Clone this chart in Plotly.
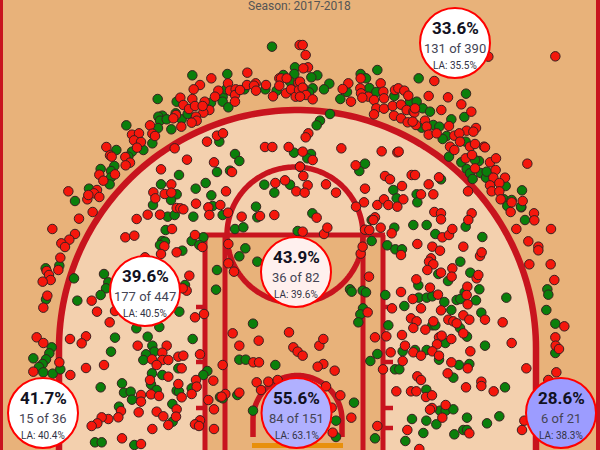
import numpy as np
import plotly.graph_objects as go

SEASON = "Season: 2017-2018"

# shot readings per court quadrant, in thirds of a court unit from the quadrant origin
made_nw = [(816,140),(577,226),(682,222),(473,297),(379,376),(487,347),(475,350),(480,362),(500,358),(474,384),(514,388),(530,305),(527,340),(545,358),(563,342),(633,308),(668,290),(668,305),(685,322),(678,268),(733,268),(796,268),(830,272),(850,225),(885,202),(883,222),(870,245),(457,430),(430,450),(396,455),(385,470),(349,450),(343,498),(333,513),(333,532),(329,553),(302,507),(267,566),(225,603),(658,425),(705,462),(718,483),(651,516),(690,512),(537,525),(483,553),(617,549),(587,566),(634,586),(530,583),(513,600),(459,615),(793,554),(870,554),(823,578),(768,620),(772,652),(668,645),(638,618),(503,650),(524,645),(580,650),(882,458)]
missed_nw = [(899,135),(742,218),(634,235),(600,255),(581,268),(684,250),(655,272),(690,272),(645,290),(707,268),(705,285),(705,305),(741,255),(767,250),(762,257),(768,272),(720,270),(798,255),(819,289),(838,235),(843,235),(860,235),(838,257),(858,280),(873,268),(887,290),(895,248),(897,270),(541,293),(577,297),(528,345),(550,315),(567,327),(585,318),(614,305),(628,330),(610,338),(588,350),(590,362),(575,368),(544,380),(520,355),(608,318),(450,376),(396,404),(417,400),(402,421),(423,426),(457,401),(465,408),(411,443),(319,441),(330,466),(335,470),(376,471),(390,488),(377,496),(345,523),(298,524),(310,542),(205,574),(291,570),(282,580),(262,598),(298,591),(265,585),(278,636),(237,656),(524,445),(621,425),(651,407),(669,400),(795,441),(817,441),(866,441),(561,479),(642,487),(483,508),(696,516),(514,553),(460,577),(466,595),(494,582),(514,578),(678,574),(826,549),(855,541),(889,574),(900,500),(588,611),(530,624),(541,625),(550,628),(480,644),(443,644),(410,657),(625,622),(628,645),(661,615),(684,638),(725,650),(823,645),(780,648)]
made_ne = [(232,210),(182,222),(198,235),(52,226),(34,232),(88,251),(72,268),(38,265),(27,277),(10,265),(121,297),(141,276),(208,264),(229,276),(283,288),(356,235),(498,281),(330,305),(350,305),(368,325),(390,335),(493,351),(454,358),(400,375),(418,380),(440,408),(428,417),(365,383),(497,425),(447,470),(484,487),(500,507),(510,520),(537,483),(525,480),(518,537),(542,519),(558,533),(560,515),(617,558),(666,571),(612,598),(622,618),(635,600),(664,622),(663,620),(675,660),(90,342),(60,362),(50,376),(33,462),(22,475),(195,491),(178,513),(423,538),(280,570),(290,595),(350,583),(352,607),(37,640),(215,660)]
missed_ne = [(8,135),(17,165),(24,202),(10,205),(0,245),(8,263),(18,285),(38,298),(0,290),(565,170),(766,169),(403,243),(182,235),(145,250),(128,267),(153,305),(181,265),(183,280),(205,290),(187,293),(222,300),(242,250),(250,275),(252,295),(229,325),(252,326),(222,343),(285,270),(295,265),(313,272),(325,287),(278,318),(303,314),(282,347),(303,355),(320,330),(340,335),(343,338),(345,325),(386,288),(444,292),(484,313),(424,330),(514,335),(323,367),(348,375),(338,365),(375,362),(380,380),(386,404),(410,400),(447,378),(463,407),(528,384),(500,392),(520,395),(478,400),(450,440),(463,450),(480,425),(510,440),(525,432),(552,440),(555,442),(497,475),(516,465),(570,487),(588,475),(587,510),(682,491),(525,505),(615,533),(580,533),(598,549),(570,556),(575,574),(598,574),(602,598),(635,607),(632,636),(668,603),(702,640),(703,661),(25,400),(17,412),(124,445),(245,454),(292,457),(296,455),(167,496),(255,528),(270,538),(335,525),(345,525),(417,532),(386,553),(306,558),(195,566),(78,553),(108,578),(23,556),(14,578),(10,528),(0,500),(8,455),(38,480),(363,583),(400,583),(504,574),(192,607),(168,620),(232,615),(252,598),(265,615),(292,620),(310,598),(403,636),(423,640),(423,658),(515,640),(505,660),(225,652),(220,660),(50,653)]
made_sw = [(137,130),(178,122),(222,160),(312,147),(325,172),(318,190),(302,210),(232,227),(138,223),(345,338),(333,380),(155,367),(148,385),(138,403),(128,417),(117,426),(100,400),(130,442),(158,446),(181,433),(302,487),(366,475),(372,503),(392,500),(396,524),(409,310),(443,335),(478,306),(457,362),(463,380),(438,388),(430,405),(456,445),(487,450),(453,478),(470,495),(535,430),(530,497),(537,500),(575,490),(517,537),(357,545),(518,590),(403,660),(285,652),(305,652),(497,15),(487,48),(495,50),(480,60),(575,48),(610,37),(598,60),(547,77),(705,12),(730,7),(736,70),(718,94),(772,110),(651,135),(648,194),(893,18),(538,260),(555,180),(759,296),(578,342),(718,404),(737,404),(826,420),(622,438),(610,450),(660,516),(668,520),(712,510),(759,557)]
missed_sw = [(157,12),(225,27),(208,44),(184,55),(195,66),(181,98),(175,135),(140,138),(147,150),(152,165),(128,170),(142,212),(130,248),(110,337),(130,354),(210,342),(258,334),(245,355),(275,227),(291,260),(329,292),(345,258),(178,412),(100,440),(211,450),(258,429),(312,420),(413,362),(500,362),(487,383),(487,405),(456,403),(470,420),(505,405),(535,395),(550,392),(545,430),(505,455),(600,388),(668,420),(640,467),(588,465),(590,485),(575,507),(545,517),(625,525),(642,553),(718,503),(676,507),(665,515),(450,465),(423,510),(423,530),(453,508),(477,513),(535,477),(530,553),(528,575),(470,560),(490,574),(416,562),(363,558),(355,577),(325,582),(305,577),(292,595),(275,603),(505,600),(457,612),(366,640),(423,657),(600,586),(585,598),(597,603),(642,612),(376,37),(403,32),(493,64),(483,87),(530,82),(516,12),(585,30),(607,66),(685,57),(685,115),(702,140),(568,152),(560,197),(548,190),(612,267),(585,277),(698,325),(718,362),(776,347),(867,322),(880,367),(893,380),(760,412),(777,412),(770,472),(783,495),(805,470),(833,465),(435,97)]
made_se = [(215,48),(262,61),(286,73),(306,73),(547,36),(406,27),(481,110),(415,147),(444,168),(511,143),(355,181),(538,193),(494,202),(256,210),(150,193),(155,200),(188,197),(198,202),(356,218),(380,218),(397,214),(433,231),(470,225),(481,222),(528,226),(313,243),(454,255),(544,263),(619,218),(742,193),(745,209),(739,255),(189,250),(181,268),(175,292),(265,301),(397,301),(406,301),(480,309),(501,335),(436,354),(555,362),(766,296),(380,375),(345,375),(308,379),(417,404),(232,387),(211,408),(477,420),(508,417),(285,433),(298,433),(460,458),(615,487),(379,494),(420,557),(437,557),(460,553),(336,582),(379,587),(409,598),(501,578),(561,595),(598,574),(370,624),(463,628),(490,615),(501,615),(225,640),(316,648),(162,533),(108,587),(108,636),(766,384),(283,8),(340,0),(380,0),(497,5)]
missed_se = [(8,20),(72,27),(82,8),(195,14),(208,15),(242,8),(275,25),(352,57),(397,65),(420,77),(427,37),(447,30),(457,12),(490,65),(540,93),(545,82),(649,12),(685,49),(715,65),(715,76),(753,12),(688,118),(752,118),(763,165),(793,304),(766,337),(767,362),(777,372),(303,90),(393,100),(387,110),(400,118),(382,135),(423,143),(457,130),(455,155),(530,160),(535,150),(349,163),(390,188),(303,201),(414,209),(338,222),(363,250),(276,250),(502,185),(500,210),(503,238),(423,256),(333,280),(350,289),(340,309),(376,314),(400,289),(445,284),(460,289),(470,295),(490,271),(508,284),(555,284),(608,292),(490,325),(635,354),(306,330),(225,337),(259,334),(417,337),(425,332),(454,342),(411,358),(397,379),(417,392),(315,362),(340,382),(363,392),(272,382),(308,408),(249,433),(511,379),(454,412),(443,445),(503,430),(352,454),(363,465),(679,430),(769,442),(745,465),(544,470),(544,483),(498,487),(581,499),(289,499),(333,499),(349,499),(378,516),(396,511),(396,549),(390,554),(437,540),(427,578),(322,615),(232,603),(666,615),(673,587),(508,625),(358,672),(207,155),(182,86),(188,65),(203,262),(58,362),(70,342),(8,392),(70,417),(53,425),(104,437),(78,484),(121,511),(95,548),(98,623),(154,578)]

zone_x = [455, 145, 43, 296, 296.5, 561]
zone_y = [43, 291, 413, 272, 413, 413]
zone_pct = ["33.6%", "39.6%", "41.7%", "43.9%", "55.6%", "28.6%"]
zone_count = ["131 of 390", "177 of 447", "15 of 36", "36 of 82", "84 of 151", "6 of 21"]
zone_league = ["LA: 35.5%", "LA: 40.5%", "LA: 40.4%", "LA: 39.6%", "LA: 63.1%", "LA: 38.3%"]
zone_fill = ["#ffffff", "#ffffff", "#ffffff", "#fff0ee", "#b0b0ff", "#9c9cff"]

DARK = "#e8b27a"
LIGHT = "#f3d0ae"
LINE = "#c8141e"
ORANGE = "#e8900c"


def place(q_made, q_miss, ox, oy, made, miss):
    made += [(ox + a / 3, oy + b / 3) for a, b in q_made]
    miss += [(ox + a / 3, oy + b / 3) for a, b in q_miss]


made_pts, miss_pts = [], []
place(made_nw, missed_nw, 0, 0, made_pts, miss_pts)
place(made_ne, missed_ne, 300, 0, made_pts, miss_pts)
place(made_sw, missed_sw, 0, 225, made_pts, miss_pts)
place(made_se, missed_se, 300, 225, made_pts, miss_pts)


def arc(cx, cy, r, a0, a1, n=120):
    t = np.radians(np.linspace(a0, a1, n))
    return cx + r * np.cos(t), cy - r * np.sin(t)


def path_of(xs, ys, close=False):
    p = "M " + " L ".join(f"{x:.2f},{y:.2f}" for x, y in zip(xs, ys))
    return p + (" Z" if close else "")


shapes = []


def rect(x0, y0, x1, y1, color):
    shapes.append(dict(type="rect", x0=x0, y0=y0, x1=x1, y1=y1, fillcolor=color,
                       line=dict(width=0), layer="below"))


def stroke(xs, ys, w=5, color=LINE):
    shapes.append(dict(type="path", path=path_of(xs, ys), line=dict(color=color, width=w),
                       layer="below"))


# three-point region
CX, CY, R = 297.5, 348.5, 238.5
ax_, ay_ = arc(CX, CY, R, 180, 0)
fx = np.r_[CX - R, ax_, CX + R]
fy = np.r_[452, ay_, 452]
shapes.append(dict(type="path", path=path_of(fx, fy, True), fillcolor=LIGHT,
                   line=dict(width=0), layer="below"))
rect(205, 235, 383, 452, DARK)
stroke(fx, fy, 6.5)

# free-throw circle
fcx, fcy = arc(295, 235, 68, 180, 0)
stroke(fcx, fcy, 5.5)
fcx, fcy = arc(295, 235, 68, 180, 360)
stroke(fcx, fcy, 5.5)

# lane lines
for lane_x in (205, 225, 363, 383):
    stroke([lane_x, lane_x], [235, 452], 5)
stroke([203, 385], [235, 235], 5)
for hash_y in (307, 362, 408, 428):
    stroke([196, 205], [hash_y, hash_y], 4.5)
    stroke([383, 393], [hash_y, hash_y], 4.5)

# restricted area
rax, ray = arc(297.5, 420, 44.5, 180, 0)
stroke(np.r_[253, rax, 342], np.r_[437, ray, 437], 5.5)
stroke([252, 343], [445.5, 445.5], 5, ORANGE)

# sidelines
rect(0, 0, 3, 452, LINE)
rect(596, 0, 600, 452, LINE)

fig = go.Figure()
for pts, col in ((made_pts, "#0b7f0b"), (miss_pts, "#f5170c")):
    fig.add_trace(go.Scatter(
        x=[p[0] for p in pts], y=[p[1] for p in pts], mode="markers", hoverinfo="skip",
        marker=dict(size=9.5, color=col, line=dict(color="#3a2020", width=1))))

fig.add_trace(go.Scatter(
    x=zone_x, y=zone_y, mode="markers", hoverinfo="skip",
    marker=dict(size=70, color=zone_fill, line=dict(color="#ff0000", width=2))))


def label(texts, dy, size, color, family="Roboto", bold=False):
    for x, y, t in zip(zone_x, zone_y, texts):
        fig.add_annotation(x=x, y=y + dy, text=f"<b>{t}</b>" if bold else t, showarrow=False,
                           font=dict(family=family, size=size, color=color))


label(zone_pct, -15, 17, "#111122", bold=True)
label(zone_count, 5, 13, "#444455")
label(zone_league, 22, 10, "#333344")
fig.add_annotation(x=299, y=6, text=SEASON, showarrow=False,
                   font=dict(family="Roboto", size=12, color="#555555"))

fig.update_layout(
    width=600, height=450, margin=dict(l=0, r=0, t=0, b=0), showlegend=False,
    paper_bgcolor=DARK, plot_bgcolor=DARK, shapes=shapes,
    xaxis=dict(range=[0, 600], visible=False, fixedrange=True),
    yaxis=dict(range=[450, 0], visible=False, fixedrange=True),
)
fig.write_html("out.html", config=dict(displayModeBar=False),
               post_script="document.body.style.margin='0';document.body.style.overflow='hidden';")
